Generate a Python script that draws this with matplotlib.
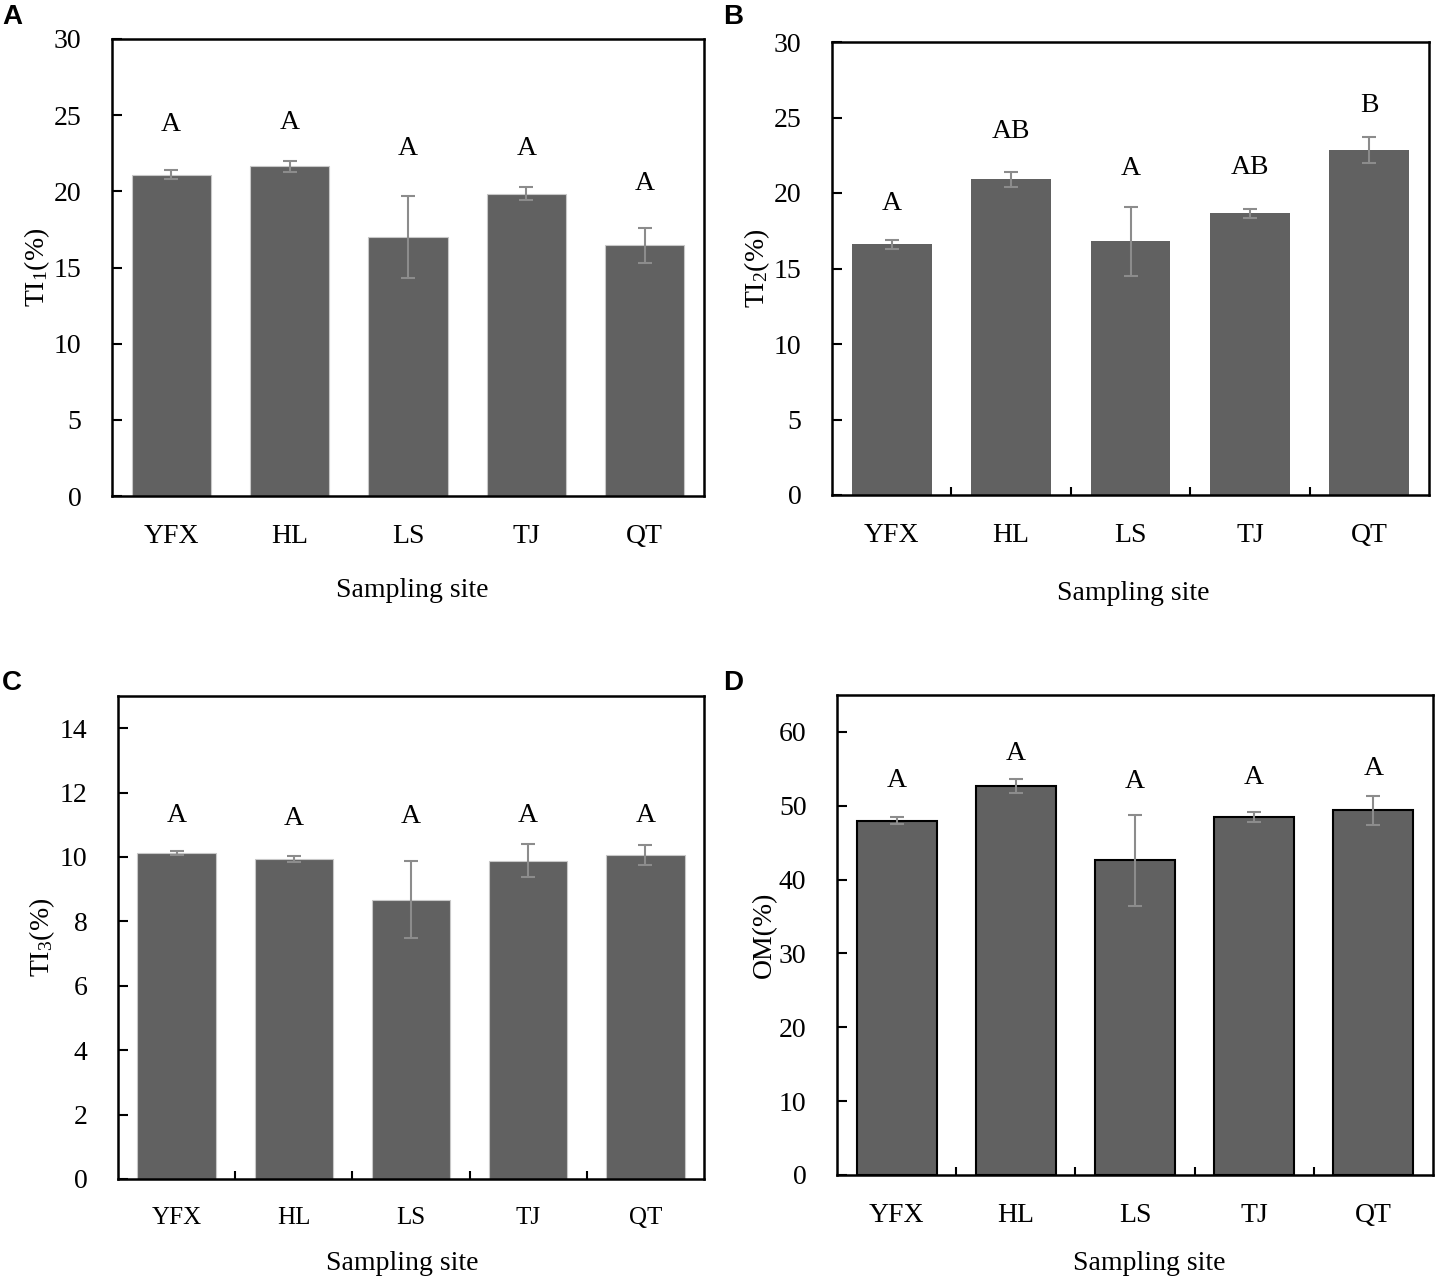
import matplotlib
matplotlib.use("Agg")
import matplotlib.pyplot as plt

plt.rcParams['font.family'] = ['Liberation Serif', 'DejaVu Serif']
plt.rcParams['mathtext.fontset'] = 'custom'
plt.rcParams['mathtext.rm'] = 'Liberation Serif'
plt.rcParams['mathtext.it'] = 'Liberation Serif:italic'

# data
sites = ['YFX', 'HL', 'LS', 'TJ', 'QT']

ti1 = [21.1, 21.65, 17.0, 19.85, 16.45]
ti1_err = [0.3, 0.35, 2.7, 0.45, 1.15]
ti1_letters = ['A', 'A', 'A', 'A', 'A']
ti1_letter_y = [24.4, 24.5, 22.8, 22.8, 20.5]

ti2 = [16.6, 20.9, 16.8, 18.65, 22.85]
ti2_err = [0.3, 0.5, 2.3, 0.3, 0.85]
ti2_letters = ['A', 'AB', 'A', 'AB', 'B']
ti2_letter_y = [19.3, 24.1, 21.6, 21.7, 25.8]

ti3 = [10.12, 9.94, 8.67, 9.89, 10.06]
ti3_err = [0.06, 0.1, 1.2, 0.5, 0.3]
ti3_letters = ['A', 'A', 'A', 'A', 'A']
ti3_letter_y = [11.3, 11.2, 11.25, 11.3, 11.3]

om = [48.0, 52.7, 42.6, 48.5, 49.4]
om_err = [0.5, 0.95, 6.2, 0.7, 1.95]
om_letters = ['A', 'A', 'A', 'A', 'A']
om_letter_y = [53.4, 57.1, 53.3, 53.8, 55.0]

W, H = 1438, 1282
fig = plt.figure(figsize=(W / 100, H / 100), dpi=100)


def make_axes(left, right, top, bottom):
    return fig.add_axes([left / W, 1 - bottom / H, (right - left) / W, (bottom - top) / H])


def panel(ax, box, vals, errs, letters, letter_y, ylim, step, ylabel,
          ylab_x, xlab_pos, edge='#c8c8c8', edge_w=0.8, xticks=True, xtick_size=20):
    left, right, top, bottom = box
    x = range(len(sites))
    ax.bar(x, vals, width=0.67, color='#616161', edgecolor=edge, linewidth=edge_w, zorder=2)
    ax.errorbar(x, vals, yerr=errs, fmt='none', ecolor='#8c8c8c', elinewidth=1.5,
                capsize=5, capthick=1.5, zorder=3)
    for xi, lab, ly in zip(x, letters, letter_y):
        ax.text(xi, ly, lab, ha='center', va='center', fontsize=20)
    ax.set_xlim(-0.5, len(sites) - 0.5)
    ax.set_ylim(*ylim)
    ax.set_yticks(range(0, int(ylim[1]) + 1, step))
    ax.tick_params(axis='y', direction='in', length=7, width=1.5, labelsize=20, pad=22)
    ax.set_xticks(list(x))
    ax.set_xticklabels(sites)
    ax.tick_params(axis='x', which='major', length=0, labelsize=xtick_size, pad=20)
    if xticks:
        ax.set_xticks([i + 0.5 for i in range(len(sites) - 1)], minor=True)
        ax.tick_params(axis='x', which='minor', direction='in', length=6, width=1.5)
    for s in ax.spines.values():
        s.set_linewidth(1.8)
    ax.set_ylabel(ylabel, fontsize=20)
    ax.yaxis.label.set_va('center')
    ax.yaxis.set_label_coords((ylab_x - left) / (right - left), 0.5)
    ax.set_xlabel('Sampling site', fontsize=20)
    ax.xaxis.label.set_va('center')
    ax.xaxis.set_label_coords((xlab_pos[0] - left) / (right - left),
                              (bottom - xlab_pos[1]) / (bottom - top))
    return ax


boxA = (112, 704, 39, 496)
panel(make_axes(*boxA), boxA, ti1, ti1_err, ti1_letters, ti1_letter_y, (0, 30), 5,
      'TI$_1$(%)', 37, (412, 590), xticks=False)

boxB = (832, 1429, 42, 495)
panel(make_axes(*boxB), boxB, ti2, ti2_err, ti2_letters, ti2_letter_y, (0, 30), 5,
      'TI$_2$(%)', 757, (1133, 593), edge='none', edge_w=0)

boxC = (118, 704, 696, 1179)
panel(make_axes(*boxC), boxC, ti3, ti3_err, ti3_letters, ti3_letter_y, (0, 15), 2,
      'TI$_3$(%)', 42, (402, 1263), xtick_size=18)

boxD = (837, 1433, 695, 1175)
panel(make_axes(*boxD), boxD, om, om_err, om_letters, om_letter_y, (0, 65), 10,
      'OM(%)', 764, (1149, 1263), edge='black', edge_w=1.5)

for tag, px, py in [('A', 12, 17), ('B', 733, 17), ('C', 12, 683), ('D', 733, 683)]:
    fig.text(px / W, 1 - py / H, tag, family='Liberation Sans', weight='bold',
             fontsize=20, ha='center', va='center')

fig.savefig('out.png', dpi=100)
